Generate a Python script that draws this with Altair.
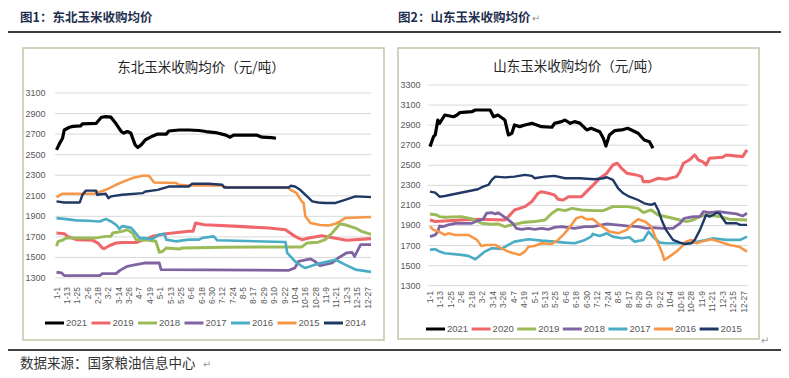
import altair as alt
import pandas as pd

# ------------------------------------------------------------------ labels
x_tick_labels = ['1-1', '1-13', '1-25', '2-6', '2-18', '3-2', '3-14', '3-26', '4-7', '4-19',
                 '5-1', '5-13', '5-25', '6-6', '6-18', '6-30', '7-12', '7-24', '8-5', '8-17',
                 '8-29', '9-10', '9-22', '10-4', '10-16', '10-28', '11-9', '11-21', '12-3',
                 '12-15', '12-27']
ne_y_ticks = [1300, 1500, 1700, 1900, 2100, 2300, 2500, 2700, 2900, 3100]
sd_y_ticks = [1300, 1500, 1700, 1900, 2100, 2300, 2500, 2700, 2900, 3100, 3300]

ne_years = ['2021', '2019', '2018', '2017', '2016', '2015', '2014']
sd_years = ['2021', '2020', '2019', '2018', '2017', '2016', '2015']

ne_title = '东北玉米收购均价（元/吨）'
sd_title = '山东玉米收购均价（元/吨）'
fig1_caption = '图1：东北玉米收购均价'
fig2_caption = '图2：山东玉米收购均价'
source_note = '数据来源：国家粮油信息中心'

# ------------------------------------------------------------------ 东北 (day of year, price)
ne_2021_day = [0, 3, 7, 9, 15, 19, 28, 30, 46, 52, 57, 63, 69, 75, 78, 82, 86, 91, 94, 98,
               103, 111, 117, 127, 130, 142, 153, 165, 173, 184, 196, 201, 205, 232, 238, 249, 254]
ne_2021_val = [2547, 2600, 2660, 2740, 2767, 2775, 2780, 2800, 2805, 2864, 2870, 2865, 2800, 2725,
               2710, 2725, 2710, 2595, 2570, 2595, 2645, 2680, 2700, 2700, 2730, 2740, 2740, 2735,
               2725, 2715, 2690, 2670, 2690, 2690, 2670, 2665, 2660]

ne_2019_day = [0, 9, 13, 23, 42, 48, 53, 55, 61, 69, 76, 92, 107, 111, 127, 153, 158, 161, 171,
               211, 246, 265, 276, 284, 292, 307, 315, 326, 336, 364]
ne_2019_val = [1738, 1731, 1705, 1673, 1667, 1640, 1592, 1585, 1614, 1641, 1646, 1646, 1690, 1705,
               1731, 1754, 1754, 1835, 1818, 1802, 1786, 1770, 1705, 1673, 1690, 1712, 1699, 1683,
               1667, 1683]

ne_2018_day = [0, 2, 7, 11, 46, 57, 63, 65, 76, 82, 88, 92, 107, 115, 119, 123, 127, 142, 146,
               192, 284, 290, 303, 311, 319, 324, 328, 334, 346, 353, 364]
ne_2018_val = [1608, 1657, 1667, 1690, 1690, 1705, 1705, 1738, 1754, 1770, 1738, 1673, 1667, 1657,
               1550, 1560, 1592, 1582, 1592, 1600, 1602, 1641, 1648, 1673, 1738, 1786, 1828, 1818,
               1786, 1754, 1725]

ne_2017_day = [0, 6, 9, 50, 53, 69, 73, 82, 92, 103, 119, 121, 269, 276, 280, 290, 294, 299, 305,
               319, 326, 336, 342, 345, 348, 352, 364]
ne_2017_val = [1356, 1350, 1323, 1323, 1343, 1343, 1372, 1414, 1430, 1446, 1446, 1382, 1375, 1398,
               1462, 1478, 1485, 1462, 1420, 1446, 1495, 1545, 1550, 1510, 1560, 1624, 1624]

ne_2016_day = [0, 9, 23, 36, 50, 57, 63, 69, 73, 76, 86, 90, 96, 111, 119, 125, 127, 138, 153,
               165, 169, 182, 186, 265, 267, 276, 284, 288, 299, 315, 323, 334, 346, 364]
ne_2016_val = [1883, 1875, 1860, 1857, 1850, 1875, 1850, 1818, 1777, 1805, 1790, 1754, 1690, 1680,
               1722, 1730, 1673, 1657, 1673, 1673, 1690, 1705, 1667, 1650, 1545, 1462, 1414, 1398,
               1430, 1462, 1478, 1430, 1382, 1360]

ne_2015_day = [0, 7, 44, 57, 69, 78, 88, 100, 107, 113, 138, 142, 153, 190, 198, 267, 271, 278,
               280, 284, 286, 288, 294, 305, 315, 323, 328, 334, 364]
ne_2015_val = [2087, 2120, 2120, 2158, 2207, 2240, 2272, 2295, 2295, 2230, 2225, 2207, 2200, 2200,
               2181, 2181, 2158, 2126, 2094, 2045, 2030, 1900, 1835, 1815, 1810, 1828, 1850, 1883,
               1893]

ne_2014_day = [0, 9, 27, 30, 34, 46, 47, 57, 60, 63, 76, 100, 103, 117, 130, 153, 157, 176, 192,
               194, 269, 271, 276, 282, 290, 296, 303, 311, 323, 334, 346, 364]
ne_2014_val = [2045, 2035, 2035, 2110, 2150, 2150, 2110, 2120, 2077, 2094, 2110, 2126, 2142, 2158,
               2190, 2190, 2217, 2217, 2207, 2181, 2181, 2197, 2190, 2158, 2094, 2045, 2035, 2030,
               2030, 2061, 2094, 2087]

# ------------------------------------------------------------------ 山东 (day of year, price)
sd_2021_day = [0, 4, 6, 9, 11, 17, 27, 31, 34, 48, 52, 63, 69, 73, 78, 86, 90, 94, 97, 103, 109,
               117, 128, 140, 143, 151, 155, 161, 166, 172, 180, 185, 195, 199, 202, 206, 212, 220,
               227, 239, 246, 252, 256]
sd_2021_val = [2686, 2785, 2802, 2951, 2918, 3001, 2984, 3001, 3024, 3034, 3051, 3051, 3051, 2984,
               3001, 2951, 2802, 2819, 2902, 2885, 2902, 2918, 2885, 2879, 2918, 2935, 2951, 2918,
               2935, 2920, 2852, 2869, 2835, 2769, 2692, 2802, 2845, 2852, 2869, 2819, 2752, 2735,
               2669]

sd_2020_day = [0, 6, 36, 55, 86, 90, 97, 109, 117, 124, 128, 136, 143, 147, 153, 159, 174, 180,
               187, 195, 203, 210, 215, 220, 226, 237, 243, 245, 252, 262, 271, 283, 287, 291, 298,
               304, 308, 313, 317, 321, 336, 340, 359, 364]
sd_2020_val = [1955, 1939, 1955, 1962, 1955, 1988, 2055, 2088, 2138, 2221, 2237, 2221, 2204, 2161,
               2154, 2187, 2187, 2240, 2300, 2371, 2421, 2503, 2520, 2470, 2421, 2404, 2387, 2337,
               2337, 2371, 2361, 2387, 2436, 2520, 2553, 2603, 2553, 2536, 2503, 2570, 2580, 2603,
               2586, 2653]

sd_2019_day = [0, 8, 11, 17, 36, 50, 59, 71, 78, 86, 94, 106, 120, 132, 140, 147, 155, 163, 174,
               189, 199, 210, 227, 239, 245, 254, 262, 274, 287, 295, 302, 310, 317, 333, 344, 364]
sd_2019_val = [2015, 2005, 1988, 1982, 1988, 1962, 1922, 1912, 1915, 1889, 1906, 1929, 1939, 1955,
               2022, 2061, 2048, 2071, 2055, 2048, 2048, 2088, 2088, 2071, 2028, 2055, 2005, 1982,
               1955, 1939, 1955, 1988, 2005, 1988, 1962, 1955]

sd_2018_day = [0, 6, 9, 11, 15, 21, 29, 48, 55, 61, 65, 71, 75, 78, 82, 90, 95, 99, 105, 113, 120,
               128, 136, 143, 151, 166, 178, 187, 203, 214, 226, 239, 249, 256, 267, 279, 287, 292,
               298, 304, 310, 314, 321, 332, 340, 352, 359, 364]
sd_2018_val = [1789, 1806, 1839, 1896, 1889, 1906, 1922, 1922, 1949, 1962, 2022, 2028, 2015, 2028,
               2005, 1955, 1922, 1872, 1862, 1872, 1862, 1872, 1862, 1882, 1889, 1872, 1889, 1889,
               1916, 1906, 1896, 1889, 1872, 1879, 1872, 1872, 1922, 1972, 1982, 1988, 1988, 2038,
               2028, 2038, 2028, 2015, 1995, 2022]

sd_2017_day = [0, 6, 11, 17, 36, 44, 52, 55, 63, 71, 82, 90, 97, 113, 128, 143, 155, 166, 178,
               185, 187, 195, 203, 210, 220, 229, 235, 245, 251, 256, 264, 271, 287, 302, 317, 325,
               340, 356, 364]
sd_2017_val = [1657, 1664, 1640, 1623, 1607, 1597, 1563, 1584, 1640, 1673, 1667, 1707, 1739, 1763,
               1749, 1739, 1729, 1723, 1756, 1789, 1816, 1796, 1822, 1789, 1773, 1783, 1739, 1756,
               1839, 1789, 1729, 1723, 1723, 1729, 1756, 1773, 1756, 1756, 1789]

sd_2016_day = [0, 4, 10, 17, 21, 29, 44, 54, 59, 65, 75, 82, 90, 96, 103, 109, 113, 120, 128, 140,
               147, 153, 161, 168, 174, 180, 187, 195, 206, 216, 226, 233, 239, 247, 254, 260, 266,
               269, 275, 283, 289, 294, 300, 306, 312, 323, 332, 344, 355, 364]
sd_2016_val = [1890, 1856, 1839, 1806, 1822, 1806, 1806, 1756, 1696, 1706, 1706, 1673, 1640, 1623,
               1607, 1640, 1689, 1696, 1723, 1716, 1756, 1806, 1889, 1972, 1988, 1960, 1965, 1906,
               1839, 1822, 1856, 1922, 1962, 1939, 1889, 1756, 1640, 1557, 1590, 1640, 1689, 1739,
               1756, 1723, 1739, 1763, 1739, 1706, 1689, 1640]

sd_2015_day = [0, 6, 11, 17, 55, 61, 67, 71, 75, 86, 97, 109, 117, 120, 132, 143, 155, 166, 172,
               189, 199, 203, 210, 216, 222, 229, 239, 246, 254, 258, 262, 266, 271, 279, 287, 292,
               300, 304, 310, 317, 321, 325, 329, 333, 336, 340, 346, 352, 356, 364]
sd_2015_val = [2237, 2227, 2187, 2194, 2261, 2287, 2304, 2354, 2387, 2380, 2387, 2404, 2394, 2371,
               2387, 2394, 2371, 2371, 2371, 2361, 2371, 2381, 2354, 2271, 2221, 2187, 2154, 2121,
               2105, 2121, 2055, 1955, 1856, 1756, 1729, 1716, 1723, 1756, 1856, 2005, 1988, 2005,
               2028, 2015, 1972, 1922, 1922, 1922, 1906, 1906]

# ------------------------------------------------------------------ styling
ne_colors = ['#000000', '#F0676B', '#9BBB59', '#8064A2', '#4BACC6', '#F79646', '#1F3864']
sd_colors = ['#000000', '#F0676B', '#9BBB59', '#8064A2', '#4BACC6', '#F79646', '#1F3864']
line_widths = [3.2, 2.4, 2.4, 2.4, 2.4, 2.4, 2.6]

NUM_FONT = 'Liberation Sans'
CJK_FONT = 'Noto Sans CJK SC'
W, H = 773, 366
M = 8  # page margin


def px(v):
    return v - M


MONTH_START = [0, 31, 59, 90, 120, 151, 181, 212, 243, 273, 304, 334]


def day_of_year(lbl):
    m, d = lbl.split('-')
    return MONTH_START[int(m) - 1] + int(d) - 1


xt_df = pd.DataFrame({'day': [day_of_year(s) for s in x_tick_labels], 'label': x_tick_labels})


def frame(names, days_list, vals_list):
    rows = []
    for name, days, vals in zip(names, days_list, vals_list):
        for d, v in zip(days, vals):
            rows.append({'year': name, 'day': d, 'price': v})
    return pd.DataFrame(rows)


ne_df = frame(ne_years,
              [ne_2021_day, ne_2019_day, ne_2018_day, ne_2017_day, ne_2016_day, ne_2015_day, ne_2014_day],
              [ne_2021_val, ne_2019_val, ne_2018_val, ne_2017_val, ne_2016_val, ne_2015_val, ne_2014_val])
sd_df = frame(sd_years,
              [sd_2021_day, sd_2020_day, sd_2019_day, sd_2018_day, sd_2017_day, sd_2016_day, sd_2015_day],
              [sd_2021_val, sd_2020_val, sd_2019_val, sd_2018_val, sd_2017_val, sd_2016_val, sd_2015_val])


def panel(df, years, colors, yticks, ydom, xr, yr, grid_x, ylab_x, xlab_y):
    xs = alt.Scale(domain=[0, 364], range=xr, nice=False, zero=False)
    ys = alt.Scale(domain=ydom, range=yr, nice=False, zero=False)
    tick_df = pd.DataFrame({'v': yticks})
    grid = alt.Chart(tick_df).mark_rule(color='#D9D9D9', strokeWidth=1).encode(
        y=alt.Y('v:Q', scale=ys, axis=None),
        x=alt.value(grid_x[0]), x2=alt.value(grid_x[1]))
    ylab = alt.Chart(tick_df).mark_text(align='right', baseline='middle', font=NUM_FONT,
                                        fontSize=9, color='#595959').encode(
        y=alt.Y('v:Q', scale=ys, axis=None),
        x=alt.value(ylab_x),
        text=alt.Text('v:Q', format='d'))
    xlab = alt.Chart(xt_df).mark_text(angle=270, align='right', baseline='middle', font=NUM_FONT,
                                      fontSize=8.5, color='#595959').encode(
        x=alt.X('day:Q', scale=xs, axis=None),
        y=alt.value(xlab_y),
        text='label:N')
    lines = alt.Chart(df).mark_line(strokeJoin='round', strokeCap='butt').encode(
        x=alt.X('day:Q', scale=xs, axis=None),
        y=alt.Y('price:Q', scale=ys, axis=None),
        color=alt.Color('year:N', scale=alt.Scale(domain=years, range=colors), legend=None),
        strokeWidth=alt.StrokeWidth('year:N', scale=alt.Scale(domain=years, range=line_widths),
                                    legend=None),
    )
    return alt.layer(grid, ylab, xlab, lines)


def legend(years, colors, x0, y0, step, sym_len):
    """Horizontal line-symbol legend laid out from a start pixel and a fixed entry step."""
    leg_df = pd.DataFrame({'year': years, 'i': list(range(len(years)))})
    base = alt.Chart(leg_df).transform_calculate(
        xs=f'{x0} + datum.i * {step}',
        xe=f'{x0} + datum.i * {step} + {sym_len}',
        xt=f'{x0} + datum.i * {step} + {sym_len} + 2',
    )
    sym = base.mark_rule(strokeWidth=3).encode(
        x=alt.X('xs:Q', scale=None, axis=None), x2='xe:Q', y=alt.value(y0),
        color=alt.Color('year:N', scale=alt.Scale(domain=years, range=colors), legend=None))
    txt = base.mark_text(align='left', baseline='middle', font=NUM_FONT, fontSize=9.5,
                         color='#595959').encode(
        x=alt.X('xt:Q', scale=None, axis=None), y=alt.value(y0), text='year:N')
    return alt.layer(sym, txt)


left = panel(ne_df, ne_years, ne_colors, ne_y_ticks, [1300, 3100],
             [px(56.5), px(371)], [px(278), px(93)], [px(55), px(371)], px(45.5), px(287))
right = panel(sd_df, sd_years, sd_colors, sd_y_ticks, [1300, 3300],
              [px(430), px(747)], [px(285.7), px(85)], [px(428), px(748)], px(420.5), px(291))
left_leg = legend(ne_years, ne_colors, px(45), px(323), 46.5, 19)
right_leg = legend(sd_years, sd_colors, px(426), px(329), 45.6, 19)

one = pd.DataFrame({'a': [0]})

boxes = alt.layer(
    alt.Chart(one).mark_rect(fill='white', stroke='#C3C3A8', strokeWidth=1.5).encode(
        x=alt.value(px(23)), x2=alt.value(px(384)), y=alt.value(px(48)), y2=alt.value(px(340))),
    alt.Chart(one).mark_rect(fill='white', stroke='#C3C3A8', strokeWidth=1.5).encode(
        x=alt.value(px(398)), x2=alt.value(px(759)), y=alt.value(px(48)), y2=alt.value(px(339))),
    alt.Chart(one).mark_rule(color='#000000', strokeWidth=1.3).encode(
        x=alt.value(0), x2=alt.value(W), y=alt.value(px(32))),
    alt.Chart(one).mark_rule(color='#000000', strokeWidth=1.3).encode(
        x=alt.value(0), x2=alt.value(W), y=alt.value(px(350))),
)


def label(text, x, y, size, color, font=CJK_FONT, weight='normal', align='left'):
    return alt.Chart(one).mark_text(align=align, baseline='middle', font=font, fontSize=size,
                                    color=color, fontWeight=weight).encode(
        x=alt.value(x), y=alt.value(y), text=alt.value(text))


texts = alt.layer(
    label(fig1_caption, px(20), px(18), 12.5, '#1F2F4F', weight='bold'),
    label(fig2_caption, px(398), px(18), 12.5, '#1F2F4F', weight='bold'),
    label('↵', px(536), px(19), 10, '#9A9A9A', font='DejaVu Sans', align='center'),
    label(ne_title, px(201), px(68), 13.5, '#262626', align='center'),
    label(sd_title, px(577), px(67), 13.5, '#262626', align='center'),
    label(source_note, px(20), px(364), 13.5, '#333333'),
    label('↵', px(207), px(365), 10, '#9A9A9A', font='DejaVu Sans', align='center'),
    label('↵', px(765), px(341), 10, '#9A9A9A', font='DejaVu Sans', align='center'),
)

chart = alt.layer(boxes, left, right, left_leg, right_leg, texts).resolve_scale(
    x='independent', y='independent', color='independent', strokeWidth='independent'
).properties(
    width=W, height=H, padding=0, autosize=alt.AutoSizeParams(type='none')
).configure_view(stroke=None)

chart.save('out.html', embed_options={'renderer': 'svg', 'actions': False})
